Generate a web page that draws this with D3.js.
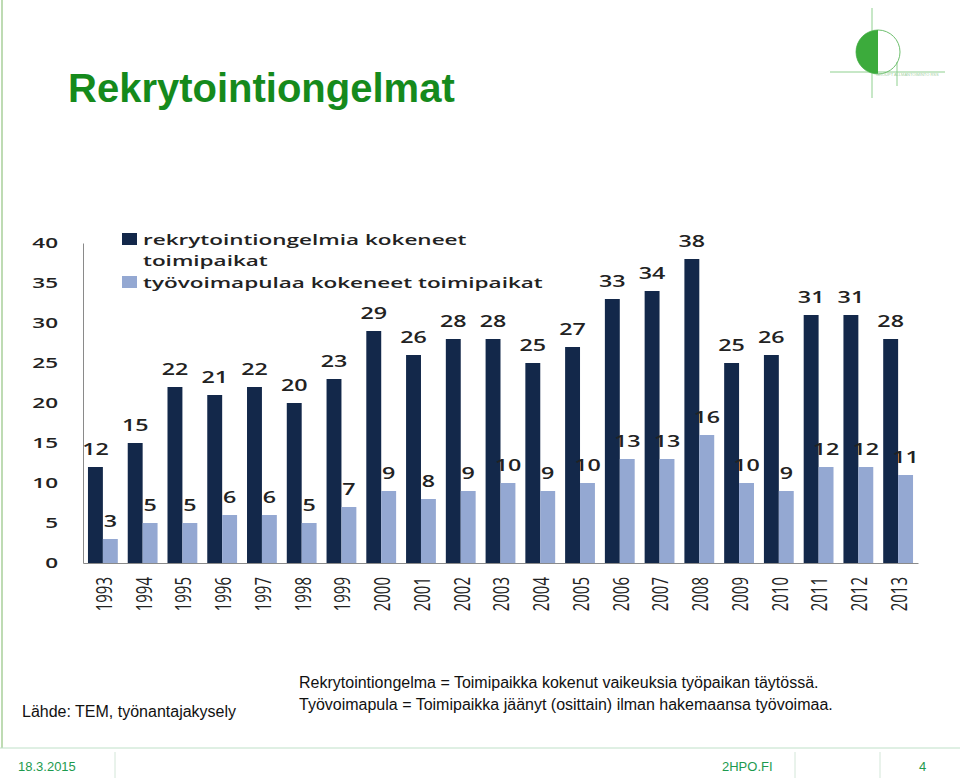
<!DOCTYPE html>
<html>
<head>
<meta charset="utf-8">
<script src="https://cdn.jsdelivr.net/npm/d3@7"></script>
<style>
  body { margin: 0; background: #fff; }
  svg { display: block; }
</style>
</head>
<body>
<div id="slide"></div>
<script>
// chart values
var years = ["1993","1994","1995","1996","1997","1998","1999","2000","2001","2002","2003",
             "2004","2005","2006","2007","2008","2009","2010","2011","2012","2013"];
var rekry = [12,15,22,21,22,20,23,29,26,28,28,25,27,33,34,38,25,26,31,31,28];
var tyovoima = [3,5,5,6,6,5,7,9,8,9,10,9,10,13,13,16,10,9,12,12,11];
var yTicks = [0,5,10,15,20,25,30,35,40];
var seriesNames = ["rekrytointiongelmia kokeneet", "työvoimapulaa kokeneet toimipaikat"];
var colors = ["#13284a", "#94a8d2"];

// the chart picture in the slide is stretched sideways, so its texts are too
var stretch = 1.5;

var svg = d3.select("#slide").append("svg")
    .attr("width", 960).attr("height", 780);

// slide frame
svg.append("line").attr("x1", 2).attr("x2", 2).attr("y1", 0).attr("y2", 748)
    .attr("stroke", "#a9cf9a").attr("stroke-width", 1.5);
svg.append("line").attr("x1", 0).attr("x2", 960).attr("y1", 748).attr("y2", 748)
    .attr("stroke", "#bfe0c8").attr("stroke-width", 1);
[115, 795, 880].forEach(function(x) {
  svg.append("line").attr("x1", x).attr("x2", x).attr("y1", 752).attr("y2", 778)
      .attr("stroke", "#d3e6d8").attr("stroke-width", 1);
});

// title
svg.append("text").attr("x", 68).attr("y", 102)
    .attr("font-family", "Liberation Sans, Arial, sans-serif")
    .attr("font-weight", "bold").attr("font-size", 40)
    .attr("fill", "#158a1c").text("Rekrytointiongelmat");

// logo
var logo = svg.append("g").attr("stroke", "#8fd08f").attr("fill", "none");
logo.append("line").attr("x1", 872).attr("x2", 872).attr("y1", 8).attr("y2", 98);
logo.append("line").attr("x1", 830).attr("x2", 945).attr("y1", 72).attr("y2", 72);
logo.append("line").attr("x1", 897).attr("x2", 897).attr("y1", 62).attr("y2", 86);
logo.append("circle").attr("cx", 878).attr("cy", 52).attr("r", 22).attr("stroke", "#6fbf6f");
logo.append("path").attr("d", d3.arc()({innerRadius: 0, outerRadius: 22, startAngle: Math.PI, endAngle: 2 * Math.PI}))
    .attr("transform", "translate(878,52)").attr("fill", "#3cab3c").attr("stroke", "none");
svg.append("text").attr("x", 876).attr("y", 76).attr("font-size", 4)
    .attr("font-family", "Liberation Sans, Arial, sans-serif")
    .attr("fill", "#9fd09f").text("GROUPT ALLMANTOIMINTO RSS");

// chart
var x = d3.scaleBand().domain(years).range([83, 918]).paddingInner(0.25).paddingOuter(0.125);
var xs = d3.scaleBand().domain([0, 1]).range([0, x.bandwidth()]);
var y = d3.scaleLinear().domain([0, 40]).range([563, 243]);

var chartFont = "Open Sans, DejaVu Sans, sans-serif";

// y axis
var yAxis = svg.append("g").attr("transform", "translate(83,0)")
    .call(d3.axisLeft(y).tickValues(yTicks).tickSize(0));
yAxis.select(".domain").attr("stroke", "#8a8a8a");
yAxis.selectAll("text").attr("font-family", chartFont).attr("font-size", 15)
    .attr("font-weight", 600).attr("fill", "#222")
    .attr("x", 0).attr("text-anchor", "end")
    .attr("transform", "translate(-25,0) scale(" + stretch + ",1)");

// x axis
var xAxis = svg.append("g").attr("transform", "translate(0,563)")
    .call(d3.axisBottom(x).tickSize(0).tickSizeOuter(0));
xAxis.select(".domain").attr("stroke", "#8a8a8a");
xAxis.selectAll("text")
    .attr("font-family", chartFont)
    .attr("font-size", 15).attr("fill", "#222")
    .attr("text-anchor", "end").attr("dy", "0.35em")
    .attr("transform", "translate(1,14) scale(" + stretch + ",1) rotate(-90)")
    .attr("x", 0).attr("y", 0);

var table = years.map(function(yr, i) { return {year: yr, values: [rekry[i], tyovoima[i]]}; });

var groups = svg.append("g").selectAll("g").data(table).enter().append("g")
    .attr("transform", function(d) { return "translate(" + x(d.year) + ",0)"; });

groups.selectAll("rect").data(function(d) { return d.values; }).enter().append("rect")
    .attr("x", function(d, i) { return xs(i); })
    .attr("y", function(d) { return y(d); })
    .attr("width", xs.bandwidth())
    .attr("height", function(d) { return y(0) - y(d); })
    .attr("fill", function(d, i) { return colors[i]; });

groups.selectAll("text").data(function(d) { return d.values; }).enter().append("text")
    .attr("transform", function(d, i) {
      return "translate(" + (xs(i) + xs.bandwidth() / 2) + "," + (y(d) - 12) + ") scale(" + stretch + ",1)";
    })
    .attr("text-anchor", "middle")
    .attr("font-family", chartFont).attr("font-size", 15.5).attr("font-weight", 600)
    .attr("fill", "#222")
    .text(function(d) { return d; });

// legend
var legend = svg.append("g").attr("font-family", chartFont).attr("font-size", 15)
    .attr("font-weight", 600).attr("fill", "#222");
legend.append("rect").attr("x", 122).attr("y", 233).attr("width", 15).attr("height", 12).attr("fill", colors[0]);
var l1 = legend.append("text").attr("transform", "translate(143,245) scale(" + stretch + ",1)");
l1.append("tspan").attr("x", 0).attr("y", 0).text(seriesNames[0]);
l1.append("tspan").attr("x", 0).attr("y", 21).text("toimipaikat");
legend.append("rect").attr("x", 122).attr("y", 276).attr("width", 15).attr("height", 12).attr("fill", colors[1]);
legend.append("text").attr("transform", "translate(143,288) scale(" + stretch + ",1)").text(seriesNames[1]);

// notes
var notes = svg.append("g").attr("font-family", "Liberation Sans, Arial, sans-serif")
    .attr("font-size", 16).attr("fill", "#111");
notes.append("text").attr("x", 22).attr("y", 717).text("Lähde: TEM, työnantajakysely");
notes.append("text").attr("x", 299).attr("y", 688)
    .text("Rekrytointiongelma = Toimipaikka kokenut vaikeuksia työpaikan täytössä.");
notes.append("text").attr("x", 299).attr("y", 710)
    .text("Työvoimapula = Toimipaikka jäänyt (osittain) ilman hakemaansa työvoimaa.");

// footer
var footer = svg.append("g").attr("font-family", "Liberation Sans, Arial, sans-serif")
    .attr("font-size", 13).attr("fill", "#1d9a4e");
footer.append("text").attr("x", 18).attr("y", 771).text("18.3.2015");
footer.append("text").attr("x", 722).attr("y", 771).text("2HPO.FI");
footer.append("text").attr("x", 919).attr("y", 771).text("4");
</script>
</body>
</html>
